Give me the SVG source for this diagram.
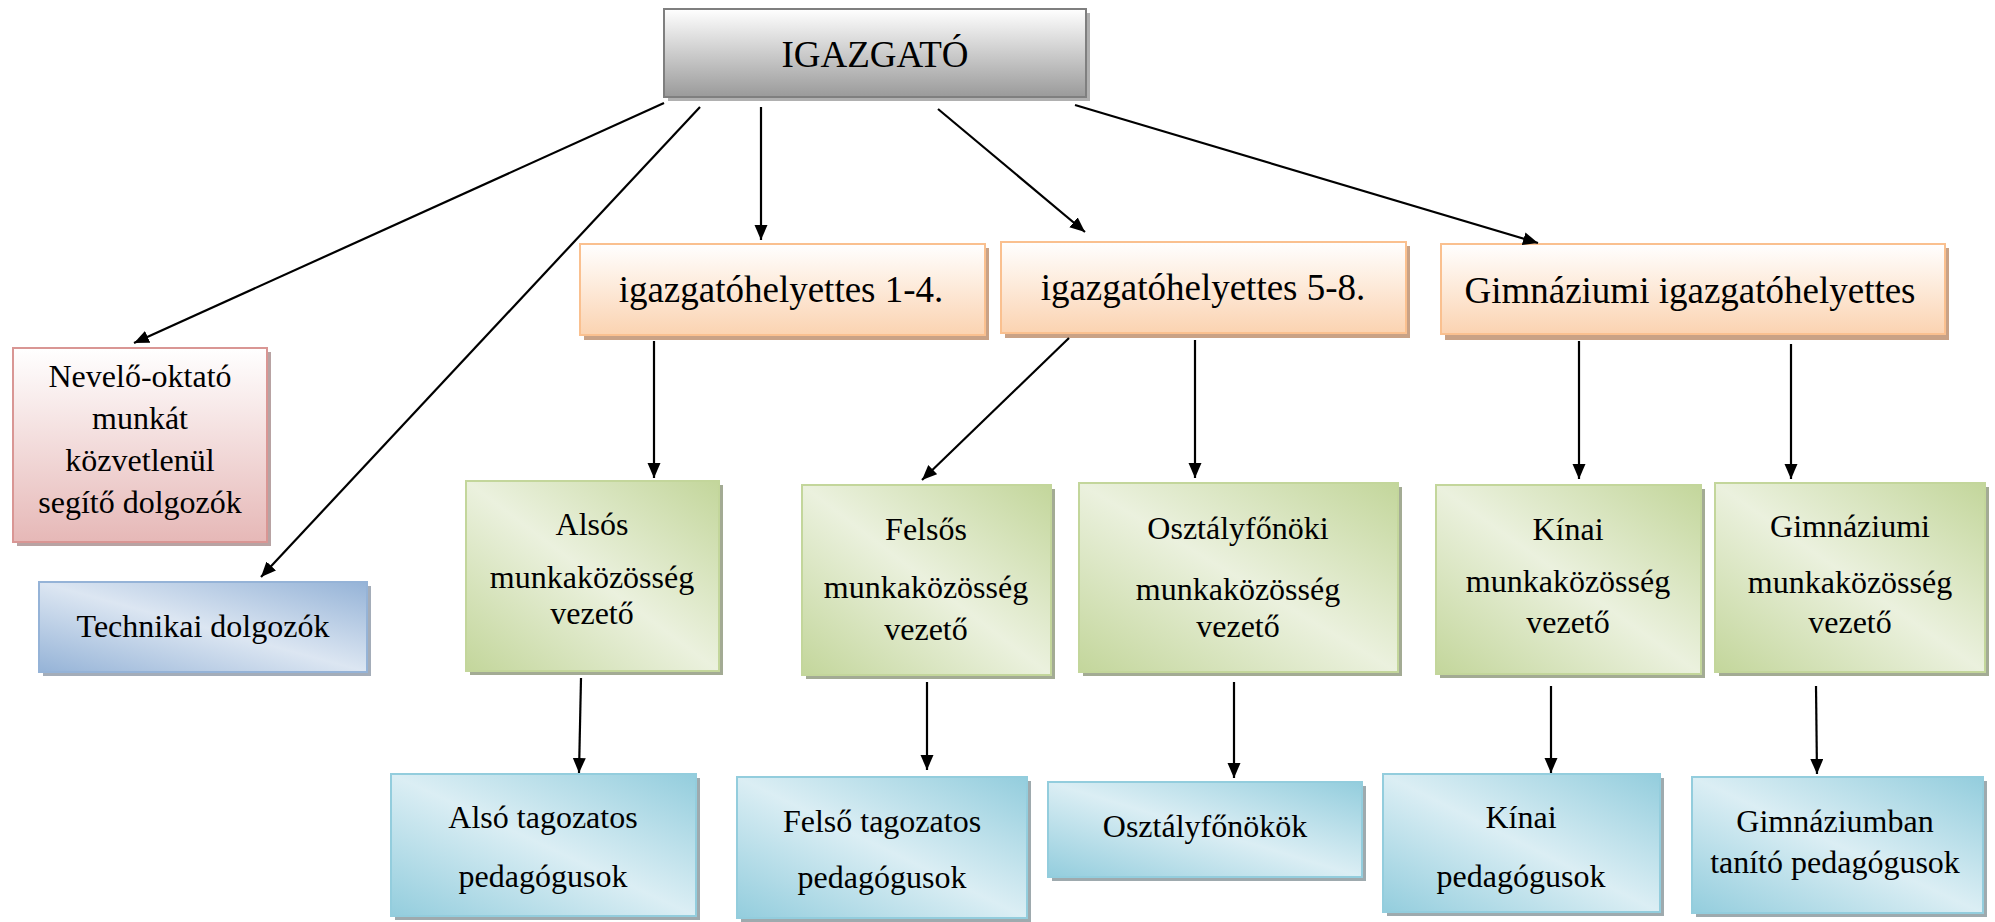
<svg xmlns="http://www.w3.org/2000/svg" width="1995" height="922" viewBox="0 0 1995 922">
<defs>
<linearGradient id="gGray" x1="0" y1="0" x2="0" y2="1"><stop offset="0" stop-color="#ffffff"/><stop offset="1" stop-color="#9a9a9a"/></linearGradient>
<linearGradient id="gOrange" x1="0" y1="0" x2="0" y2="1"><stop offset="0" stop-color="#ffffff"/><stop offset="1" stop-color="#fbd3b1"/></linearGradient>
<linearGradient id="gPink" x1="0" y1="0" x2="0" y2="1"><stop offset="0" stop-color="#ffffff"/><stop offset="1" stop-color="#e6b8b7"/></linearGradient>
<linearGradient id="gGreen" x1="1" y1="0" x2="0" y2="1"><stop offset="0" stop-color="#c3d69b"/><stop offset="0.5" stop-color="#ebf1de"/><stop offset="1" stop-color="#c3d69b"/></linearGradient>
<linearGradient id="gAqua" x1="1" y1="0" x2="0" y2="1"><stop offset="0" stop-color="#93cddd"/><stop offset="0.5" stop-color="#dbeef4"/><stop offset="1" stop-color="#93cddd"/></linearGradient>
<linearGradient id="gBlue" x1="1" y1="0" x2="0" y2="1"><stop offset="0" stop-color="#95b3d7"/><stop offset="0.5" stop-color="#dce6f2"/><stop offset="1" stop-color="#95b3d7"/></linearGradient>
<marker id="arr" markerUnits="userSpaceOnUse" markerWidth="16" markerHeight="14" refX="15" refY="6.5" orient="auto"><path d="M0,0 L15,6.5 L0,13 z" fill="#000"/></marker>
</defs>
<style>
text{font-family:"Liberation Serif","Times New Roman",serif;fill:#000;text-anchor:middle}
.big{font-size:37px}
.lab{font-size:32px}
.box{stroke-width:2}
.gray{fill:url(#gGray);stroke:#7f7f7f}
.orange{fill:url(#gOrange);stroke:#fac08f}
.pink{fill:url(#gPink);stroke:#d99694}
.green{fill:url(#gGreen);stroke:#c3d69b}
.aqua{fill:url(#gAqua);stroke:#93cddd}
.blue{fill:url(#gBlue);stroke:#95b3d7}
.sh{stroke:none}
.shGray{fill:#b0b0b0}
.shOrange{fill:#c9a286}
.shPink{fill:#b8a3a3}
.shGreen{fill:#a3ab94}
.shAqua{fill:#9eaaae}
.shBlue{fill:#a4adb9}
.con{stroke:#000;stroke-width:2.2;fill:none;marker-end:url(#arr)}
</style>

<g id="igazgato">
<rect class="sh shGray" x="668" y="13" width="422" height="88"/>
<rect class="box gray" x="664" y="9" width="422" height="88"/>
<text class="big" x="875" y="67">IGAZGATÓ</text>
</g>

<g id="igh14">
<rect class="sh shOrange" x="584" y="248" width="405" height="92"/>
<rect class="box orange" x="580" y="244" width="405" height="91"/>
<text class="big" x="781" y="302">igazgatóhelyettes 1-4.</text>
</g>

<g id="igh58">
<rect class="sh shOrange" x="1005" y="246" width="405" height="92"/>
<rect class="box orange" x="1001" y="242" width="405" height="91"/>
<text class="big" x="1203" y="300">igazgatóhelyettes 5-8.</text>
</g>

<g id="ighgimn">
<rect class="sh shOrange" x="1445" y="248" width="504" height="92"/>
<rect class="box orange" x="1441" y="244" width="504" height="90"/>
<text class="big" x="1690" y="303">Gimnáziumi igazgatóhelyettes</text>
</g>

<g id="nevelo">
<rect class="sh shPink" x="17" y="352" width="254" height="194"/>
<rect class="box pink" x="13" y="348" width="254" height="194"/>
<text class="lab" x="140" y="387">Nevelő-oktató</text>
<text class="lab" x="140" y="429">munkát</text>
<text class="lab" x="140" y="471">közvetlenül</text>
<text class="lab" x="140" y="513">segítő dolgozók</text>
</g>

<g id="technikai">
<rect class="sh shBlue" x="43" y="586" width="328" height="90"/>
<rect class="box blue" x="39" y="582" width="328" height="90"/>
<text class="lab" x="203" y="637">Technikai dolgozók</text>
</g>

<g id="alsos">
<rect class="sh shGreen" x="470" y="485" width="253" height="190"/>
<rect class="box green" x="466" y="481" width="253" height="190"/>
<text class="lab" x="592" y="535">Alsós</text>
<text class="lab" x="592" y="588">munkaközösség</text>
<text class="lab" x="592" y="624">vezető</text>
</g>

<g id="felsos">
<rect class="sh shGreen" x="806" y="489" width="249" height="190"/>
<rect class="box green" x="802" y="485" width="249" height="190"/>
<text class="lab" x="926" y="540">Felsős</text>
<text class="lab" x="926" y="598">munkaközösség</text>
<text class="lab" x="926" y="640">vezető</text>
</g>

<g id="osztalyfonoki">
<rect class="sh shGreen" x="1083" y="487" width="319" height="189"/>
<rect class="box green" x="1079" y="483" width="319" height="189"/>
<text class="lab" x="1238" y="539">Osztályfőnöki</text>
<text class="lab" x="1238" y="600">munkaközösség</text>
<text class="lab" x="1238" y="637">vezető</text>
</g>

<g id="kinaimk">
<rect class="sh shGreen" x="1440" y="489" width="265" height="189"/>
<rect class="box green" x="1436" y="485" width="265" height="189"/>
<text class="lab" x="1568" y="540">Kínai</text>
<text class="lab" x="1568" y="592">munkaközösség</text>
<text class="lab" x="1568" y="633">vezető</text>
</g>

<g id="gimnmk">
<rect class="sh shGreen" x="1719" y="487" width="270" height="189"/>
<rect class="box green" x="1715" y="483" width="270" height="189"/>
<text class="lab" x="1850" y="537">Gimnáziumi</text>
<text class="lab" x="1850" y="593">munkaközösség</text>
<text class="lab" x="1850" y="633">vezető</text>
</g>

<g id="alsoped">
<rect class="sh shAqua" x="395" y="778" width="305" height="142"/>
<rect class="box aqua" x="391" y="774" width="305" height="142"/>
<text class="lab" x="543" y="828">Alsó tagozatos</text>
<text class="lab" x="543" y="887">pedagógusok</text>
</g>

<g id="felsoped">
<rect class="sh shAqua" x="741" y="781" width="290" height="141"/>
<rect class="box aqua" x="737" y="777" width="290" height="141"/>
<text class="lab" x="882" y="832">Felső tagozatos</text>
<text class="lab" x="882" y="888">pedagógusok</text>
</g>

<g id="osztalyfonokok">
<rect class="sh shAqua" x="1052" y="786" width="314" height="95"/>
<rect class="box aqua" x="1048" y="782" width="314" height="95"/>
<text class="lab" x="1205" y="837">Osztályfőnökök</text>
</g>

<g id="kinaiped">
<rect class="sh shAqua" x="1387" y="778" width="277" height="138"/>
<rect class="box aqua" x="1383" y="774" width="277" height="138"/>
<text class="lab" x="1521" y="828">Kínai</text>
<text class="lab" x="1521" y="887">pedagógusok</text>
</g>

<g id="gimnped">
<rect class="sh shAqua" x="1696" y="781" width="291" height="136"/>
<rect class="box aqua" x="1692" y="777" width="291" height="136"/>
<text class="lab" x="1835" y="832">Gimnáziumban</text>
<text class="lab" x="1835" y="873">tanító pedagógusok</text>
</g>

<g id="connectors">
<line class="con" x1="664" y1="103" x2="134" y2="343"/>
<line class="con" x1="700" y1="107" x2="261" y2="577"/>
<line class="con" x1="761" y1="107" x2="761" y2="240"/>
<line class="con" x1="938" y1="109" x2="1085" y2="232"/>
<line class="con" x1="1075" y1="105" x2="1538" y2="243"/>
<line class="con" x1="654" y1="341" x2="654" y2="478"/>
<line class="con" x1="1069" y1="338" x2="922" y2="480"/>
<line class="con" x1="1195" y1="340" x2="1195" y2="478"/>
<line class="con" x1="1579" y1="341" x2="1579" y2="479"/>
<line class="con" x1="1791" y1="344" x2="1791" y2="479"/>
<line class="con" x1="581" y1="678" x2="579" y2="773"/>
<line class="con" x1="927" y1="682" x2="927" y2="770"/>
<line class="con" x1="1234" y1="682" x2="1234" y2="778"/>
<line class="con" x1="1551" y1="686" x2="1551" y2="773"/>
<line class="con" x1="1816" y1="686" x2="1817" y2="774"/>
</g>
</svg>
